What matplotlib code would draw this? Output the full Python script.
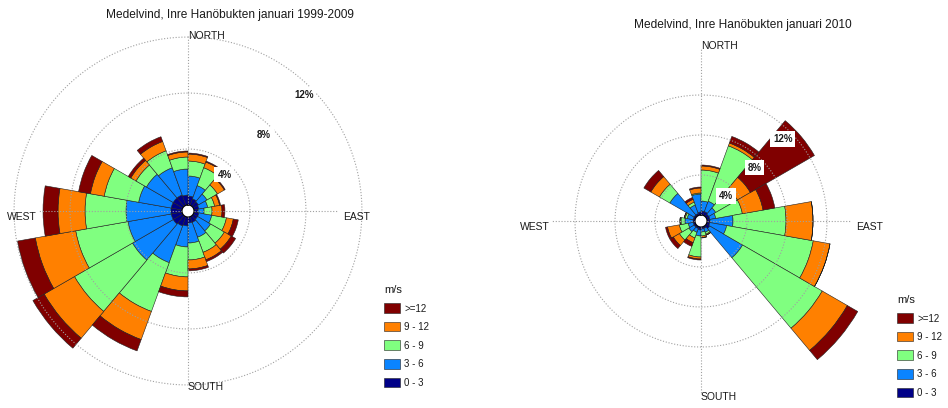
import numpy as np
import matplotlib
matplotlib.use("Agg")
import matplotlib.pyplot as plt
from matplotlib.patches import Patch

plt.rcParams["font.family"] = ["Liberation Sans", "DejaVu Sans"]

# 20 degree direction sectors, centred on 10, 30, ..., 350 (compass degrees)
directions = [10, 30, 50, 70, 90, 110, 130, 150, 170,
              190, 210, 230, 250, 270, 290, 310, 330, 350]

speed_labels = ["0 - 3", "3 - 6", "6 - 9", "9 - 12", ">=12"]
speed_colors = ["#000088", "#0a84ff", "#80ff80", "#ff8000", "#800000"]

# frequency (%) per sector and speed class, January 1999-2009
avg_0_3 = [0.64, 0.50, 0.43, 0.36, 0.29, 0.36, 0.36, 0.43, 0.43,
           0.64, 0.71, 0.79, 0.79, 0.79, 0.79, 0.79, 0.79, 0.71]
avg_3_6 = [1.43, 1.00, 0.71, 0.64, 0.43, 0.93, 1.07, 1.14, 1.43,
           1.50, 2.79, 3.36, 3.14, 3.21, 2.36, 2.21, 2.07, 1.86]
avg_6_9 = [1.07, 1.36, 0.86, 0.50, 0.57, 1.07, 1.14, 1.14, 1.21,
           2.14, 3.71, 4.79, 3.79, 2.93, 2.50, 0.86, 1.29, 0.86]
avg_9_12 = [0.50, 0.43, 0.57, 0.36, 0.71, 0.50, 0.57, 0.57, 0.64,
            1.00, 2.14, 2.50, 2.93, 1.93, 1.00, 0.43, 0.71, 0.36]
avg_12 = [0.07, 0.07, 0.07, 0.07, 0.21, 0.36, 0.36, 0.14, 0.14,
          0.43, 0.86, 0.93, 1.29, 1.07, 0.86, 0.21, 0.36, 0.07]

# frequency (%) per sector and speed class, January 2010
jan10_0_3 = [0.4, 0.4, 0.3, 0.3, 0.3, 0.3, 0.4, 0.2, 0.2,
             0.3, 0.2, 0.2, 0.2, 0.2, 0.2, 0.2, 0.2, 0.3]
jan10_3_6 = [1.0, 1.1, 0.8, 0.6, 2.3, 1.7, 3.8, 0.4, 0.3,
             0.6, 0.4, 0.6, 0.5, 0.8, 0.6, 2.8, 0.9, 1.8]
jan10_6_9 = [3.1, 5.9, 2.5, 2.7, 5.3, 8.8, 9.2, 0.2, 0.4,
             2.1, 0.6, 1.1, 0.9, 0.4, 0.2, 1.2, 0.3, 0.1]
jan10_9_12 = [0.4, 0.3, 1.5, 2.1, 2.7, 1.7, 2.9, 0.1, 0.15,
              0.2, 0.5, 0.7, 1.2, 0.1, 0.1, 1.0, 0.3, 0.5]
jan10_12 = [0.1, 0.7, 7.4, 1.2, 0.0, 0.0, 1.2, 0.0, 0.05,
            0.1, 0.4, 0.4, 0.2, 0.0, 0.0, 0.8, 0.2, 0.1]

rings = [4, 8, 12]

FIG_W, FIG_H = 948, 408
AX_R = 185       # axes radius in pixels
HOLE = 6         # white centre hole in pixels
GRID = dict(color="#a0a0a0", lw=0.8, ls=(0, (1, 1.6)), zorder=3)
EDGE = "#202020"
TEXT = "#1a1a1a"


def px_to_r(px, rmax):
    hole = rmax * HOLE / (AX_R - HOLE)
    return px / AX_R * (rmax + hole) - hole


def draw_rose(fig, cx, cy, classes, rmax, title):
    ax = fig.add_axes([(cx - AX_R) / FIG_W, (FIG_H - cy - AX_R) / FIG_H,
                       2 * AX_R / FIG_W, 2 * AX_R / FIG_H], projection="polar")
    ax.set_theta_zero_location("N")
    ax.set_theta_direction(-1)
    ax.set_rorigin(-rmax * HOLE / (AX_R - HOLE))
    ax.set_rlim(0, rmax)
    ax.grid(False)
    ax.set_xticks([])
    ax.set_yticks([])
    ax.spines["polar"].set_visible(False)
    ax.patch.set_alpha(0)

    theta = np.deg2rad(directions)
    bottom = np.zeros(len(directions))
    for values, color in zip(classes, speed_colors):
        ax.bar(theta, values, width=np.deg2rad(20), bottom=bottom, align="center",
               color=color, edgecolor=EDGE, linewidth=0.4, zorder=2)
        bottom = bottom + np.asarray(values)

    # dotted rings and compass axes
    t = np.linspace(0, 2 * np.pi, 721)
    for r in rings:
        ax.plot(t, np.full_like(t, r), **GRID)
    vert = px_to_r(172, rmax)
    horiz = px_to_r(150, rmax)
    for ang, length in [(0, vert), (180, vert), (90, horiz), (270, horiz)]:
        ax.plot([np.deg2rad(ang)] * 2, [0, length], **GRID)

    for r in rings:
        ax.annotate(f"{r}%", xy=(np.deg2rad(45), r), xytext=(-5.3, -5.3),
                    textcoords="offset points", ha="center", va="center",
                    fontsize=7, fontweight="bold", color=TEXT, zorder=6,
                    bbox=dict(boxstyle="square,pad=0.3", fc="white", ec="none"))

    f = 1 / (2 * AX_R)
    ax.text(0.5, 0.5 + 175 * f, "NORTH", transform=ax.transAxes, ha="left",
            va="center", fontsize=7.5, color=TEXT)
    ax.text(0.5, 0.5 - 176 * f, "SOUTH", transform=ax.transAxes, ha="left",
            va="center", fontsize=7.5, color=TEXT)
    ax.text(0.5 - 151 * f, 0.5 - 6 * f, "WEST", transform=ax.transAxes,
            ha="right", va="center", fontsize=7.5, color=TEXT)
    ax.text(0.5 + 155 * f, 0.5 - 6 * f, "EAST", transform=ax.transAxes,
            ha="left", va="center", fontsize=7.5, color=TEXT)
    ax.text(0.5 + 42 * f, 0.5 + 196 * f, title, transform=ax.transAxes,
            ha="center", va="center", fontsize=8.6, color=TEXT)

    handles = [Patch(facecolor=c, edgecolor=EDGE, linewidth=0.4)
               for c in speed_colors[::-1]]
    leg = ax.legend(handles, speed_labels[::-1], title="m/s", loc="upper left",
                    bbox_to_anchor=(1.03, 0.30), frameon=False, fontsize=7,
                    title_fontsize=8, handlelength=1.65, handleheight=1.13,
                    labelspacing=0.87, handletextpad=0.4, borderpad=0,
                    borderaxespad=0, alignment="left")
    for txt in leg.get_texts():
        txt.set_color(TEXT)
    leg.get_title().set_color(TEXT)
    return ax


fig = plt.figure(figsize=(FIG_W / 100, FIG_H / 100), dpi=100)

draw_rose(fig, 188, 211, [avg_0_3, avg_3_6, avg_6_9, avg_9_12, avg_12],
          12.79, "Medelvind, Inre Hanöbukten januari 1999-2009")
draw_rose(fig, 701, 221, [jan10_0_3, jan10_3_6, jan10_6_9, jan10_9_12, jan10_12],
          17.9, "Medelvind, Inre Hanöbukten januari 2010")

fig.savefig("out.png", dpi=100)
